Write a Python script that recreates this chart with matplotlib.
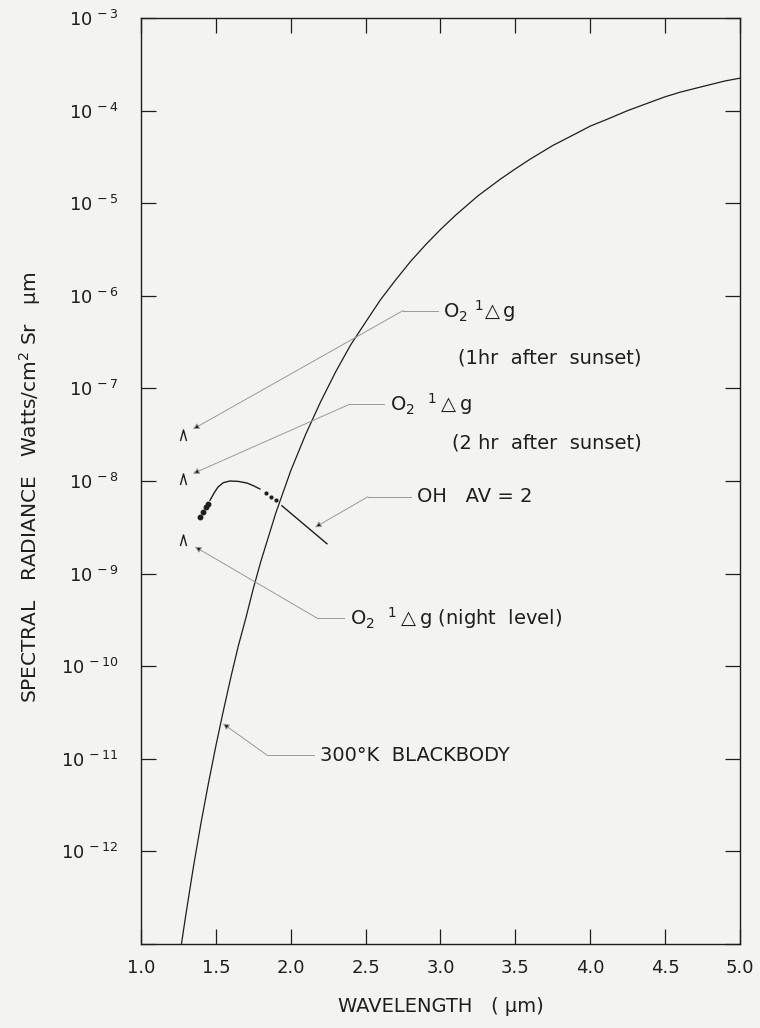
import matplotlib.pyplot as plt
from matplotlib.path import Path
from matplotlib.ticker import FixedLocator, NullLocator

plt.rcParams['font.family'] = ['DejaVu Sans']
plt.rcParams['mathtext.fontset'] = 'dejavusans'
plt.rcParams['mathtext.default'] = 'regular'

# 300 K blackbody curve
bb_wl = [1.27, 1.30, 1.35, 1.40, 1.45, 1.50, 1.55, 1.60, 1.65, 1.70, 1.75,
         1.80, 1.90, 2.00, 2.10, 2.20, 2.30, 2.40, 2.50, 2.60, 2.70, 2.80,
         2.90, 3.00, 3.10, 3.25, 3.40, 3.50, 3.60, 3.75, 3.90, 4.00, 4.10,
         4.25, 4.40, 4.50, 4.60, 4.75, 4.90, 5.00]
bb_rad = [1.0e-13, 2.1e-13, 6.8e-13, 2.0e-12, 5.4e-12, 1.38e-11, 3.3e-11,
          7.6e-11, 1.66e-10, 3.3e-10, 6.9e-10, 1.35e-9, 4.5e-9, 1.29e-8,
          3.2e-8, 7.2e-8, 1.51e-7, 2.95e-7, 5.2e-7, 9.1e-7, 1.48e-6, 2.35e-6,
          3.55e-6, 5.2e-6, 7.4e-6, 1.2e-5, 1.82e-5, 2.35e-5, 3.0e-5, 4.2e-5,
          5.6e-5, 6.8e-5, 7.9e-5, 1.0e-4, 1.23e-4, 1.41e-4, 1.58e-4, 1.82e-4,
          2.09e-4, 2.24e-4]

# OH (delta v = 2) band: solid parts and dotted parts
oh_wl_a = [1.461, 1.49, 1.514, 1.55, 1.594, 1.65, 1.708, 1.75, 1.794]
oh_rad_a = [6.2e-9, 7.5e-9, 8.6e-9, 9.6e-9, 1.0e-8, 9.9e-9, 9.5e-9, 8.9e-9, 8.2e-9]
oh_wl_b = [1.941, 2.242]
oh_rad_b = [5.4e-9, 2.1e-9]
oh_dots_wl1 = [1.394, 1.414, 1.434, 1.447]
oh_dots_rad1 = [4.1e-9, 4.6e-9, 5.2e-9, 5.6e-9]
oh_dots_wl2 = [1.834, 1.868, 1.901]
oh_dots_rad2 = [7.4e-9, 6.7e-9, 6.2e-9]

# O2 1-delta-g levels at 1.27 um (lower limits)
o2_wl = [1.28, 1.28, 1.28]
o2_rad = [3.1e-8, 1.05e-8, 2.3e-9]

xticks = [1.0, 1.5, 2.0, 2.5, 3.0, 3.5, 4.0, 4.5, 5.0]
xtick_labels = ['1.0', '1.5', '2.0', '2.5', '3.0', '3.5', '4.0', '4.5', '5.0']
ydecades = list(range(-13, -2))
ytick_labels = [''] + [r'10$^{\,%d}$' % k for k in range(-12, -2)]

# label, text x, text y, line end x, tip x, tip y, second line
notes = [
    (r'O$_2$ $^1\!\triangle$g', 3.02, 10**-6.16, 2.75, 1.347, 10**-7.44, ('(1hr  after  sunset)', 3.12, 10**-6.67)),
    (r'O$_2$  $^1\triangle$g', 2.66, 10**-7.17, 2.395, 1.347, 10**-7.92, ('(2 hr  after  sunset)', 3.08, 10**-7.59)),
    ('OH   AV = 2', 2.845, 10**-8.17, 2.515, 2.162, 10**-8.50, None),
    (r'O$_2$  $^1\triangle$g (night  level)', 2.395, 10**-9.48, 2.175, 1.36, 10**-8.71, None),
    ('300°K  BLACKBODY', 2.195, 10**-10.96, 1.841, 1.547, 10**-10.62, None),
]

ink = '#1e1e1e'
grey = '#9a9a9a'
bg = '#f3f3f1'

caret = Path([(-0.55, -1.0), (0.0, 1.0), (0.55, -1.0)],
             [Path.MOVETO, Path.LINETO, Path.LINETO])

fig = plt.figure(figsize=(7.6, 10.28), dpi=100, facecolor=bg)
ax = fig.add_axes([141 / 760, 1 - 944 / 1028, 599 / 760, 926 / 1028])
ax.set_facecolor(bg)
ax.set_yscale('log')
ax.set_xlim(1.0, 5.0)
ax.set_ylim(1e-13, 1e-3)

ax.plot(bb_wl, bb_rad, color=ink, lw=0.9)
ax.plot(oh_wl_a, oh_rad_a, color=ink, lw=1.0)
ax.plot(oh_wl_b, oh_rad_b, color=ink, lw=1.0)
ax.plot(oh_dots_wl1, oh_dots_rad1, ls='none', marker='o', ms=3.2, color=ink)
ax.plot(oh_dots_wl2, oh_dots_rad2, ls='none', marker='o', ms=2.0, color=ink)
ax.plot(o2_wl, o2_rad, ls='none', marker=caret, ms=8, mfc='none', mec=ink, mew=1.0)

for label, tx, ty, cx, px, py, extra in notes:
    ax.text(tx, ty, label, fontsize=14, color=ink, ha='left', va='center')
    ax.plot([tx - 0.04, cx], [ty, ty], color=grey, lw=0.7)
    ax.annotate('', xy=(px, py), xytext=(cx, ty),
                arrowprops=dict(arrowstyle='-|>', lw=0.7, ec=grey, fc=ink,
                                shrinkA=0, shrinkB=0, mutation_scale=9))
    if extra:
        ax.text(extra[1], extra[2], extra[0], fontsize=14, color=ink,
                ha='left', va='center')

ax.xaxis.set_major_locator(FixedLocator(xticks))
ax.set_xticklabels(xtick_labels)
ax.yaxis.set_major_locator(FixedLocator([10.0 ** k for k in ydecades]))
ax.set_yticklabels(ytick_labels)
ax.yaxis.set_minor_locator(NullLocator())
ax.tick_params(axis='both', direction='in', length=11, width=0.9, color=ink,
               top=True, right=True, labelsize=13, labelcolor=ink)
ax.tick_params(axis='x', pad=11)
ax.tick_params(axis='y', pad=16)
for s in ax.spines.values():
    s.set_linewidth(1.0)
    s.set_color(ink)

ax.set_xlabel('WAVELENGTH   ( µm)', fontsize=14, color=ink, labelpad=14)
fig.text(30 / 760, 1 - 487 / 1028,
         r'SPECTRAL   RADIANCE   Watts/cm$^2$ Sr   µm',
         rotation=90, fontsize=14.5, color=ink, ha='center', va='center')

fig.savefig('out.png', dpi=100, facecolor=bg)
